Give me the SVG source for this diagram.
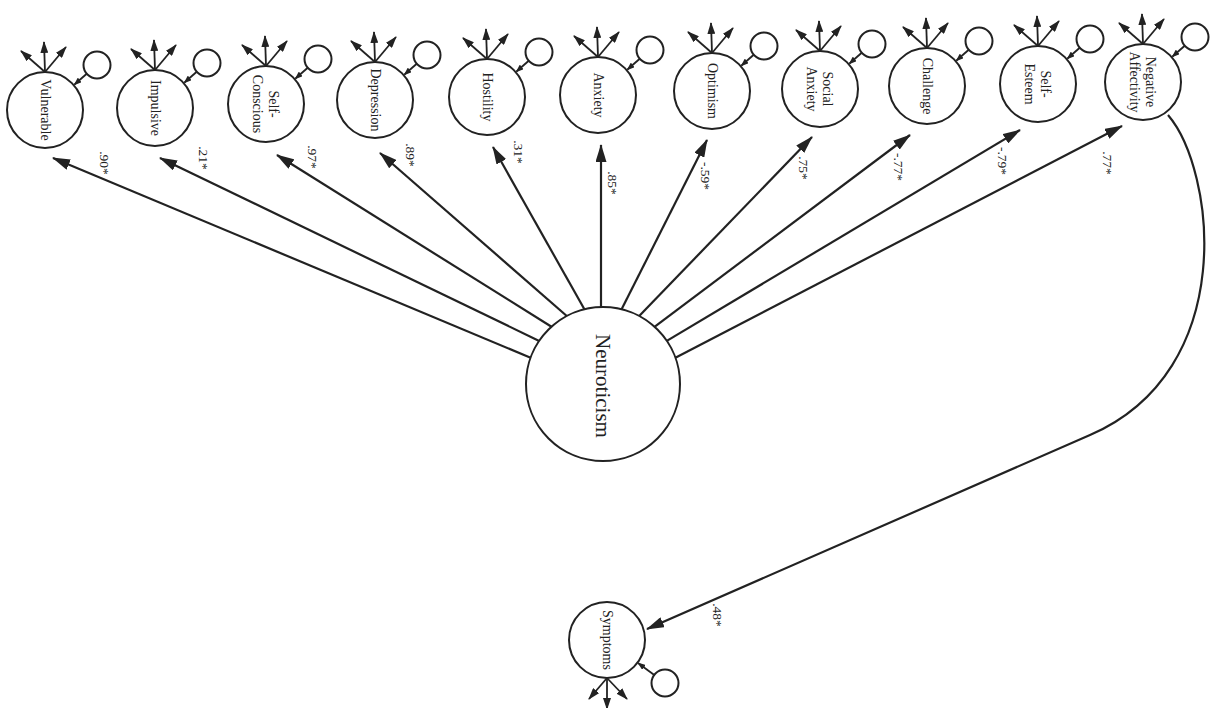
<svg xmlns="http://www.w3.org/2000/svg" xmlns:xlink="http://www.w3.org/1999/xlink" width="1212" height="708" viewBox="0 0 1212 708">
<style>
.nd{fill:#fff;stroke:#222;stroke-width:2}
.er{fill:#fff;stroke:#222;stroke-width:2}
.cn{fill:none;stroke:#222;stroke-width:2.2}
.fn{fill:none;stroke:#222;stroke-width:1.8}
.lb{font-family:"Liberation Serif","Times New Roman",serif;font-size:14px;fill:#222;text-anchor:middle;dominant-baseline:central}
.ll{font-size:13.5px}
.big{font-size:21px}
</style>
<defs>
<marker id="ah" markerWidth="18" markerHeight="11" refX="17" refY="5.5" orient="auto" markerUnits="userSpaceOnUse"><path d="M0,0 L18,5.5 L0,11 z" fill="#222"/></marker>
<marker id="ahs" markerWidth="12" markerHeight="8" refX="11" refY="4" orient="auto" markerUnits="userSpaceOnUse"><path d="M0,0 L12,4 L0,8 z" fill="#222"/></marker>
<marker id="ahe" markerWidth="8" markerHeight="6" refX="7" refY="3" orient="auto" markerUnits="userSpaceOnUse"><path d="M0,0 L8,3 L0,6 z" fill="#222"/></marker>
<g id="fanUp">
<line class="fn" x1="0" y1="-38" x2="-24" y2="-59" marker-end="url(#ahs)"/>
<line class="fn" x1="0" y1="-38" x2="-1" y2="-68" marker-end="url(#ahs)"/>
<line class="fn" x1="0" y1="-38" x2="21" y2="-63" marker-end="url(#ahs)"/>
</g>
<g id="errUp">
<circle class="er" cx="52" cy="-45" r="13.5"/>
<line class="fn" x1="42" y1="-36.5" x2="29.5" y2="-25.5" marker-end="url(#ahe)"/>
</g>
</defs>
<rect width="1212" height="708" fill="#fff"/>

<g id="connectors">
<line class="cn" x1="530.6" y1="357.7" x2="53" y2="158" marker-end="url(#ah)"/>
<line class="cn" x1="539.2" y1="340.9" x2="160" y2="158" marker-end="url(#ah)"/>
<line class="cn" x1="551.5" y1="326.8" x2="277" y2="155" marker-end="url(#ah)"/>
<line class="cn" x1="566.8" y1="316" x2="380" y2="153" marker-end="url(#ah)"/>
<line class="cn" x1="584.4" y1="309.3" x2="493" y2="147" marker-end="url(#ah)"/>
<line class="cn" x1="601" y1="307" x2="601" y2="145" marker-end="url(#ah)"/>
<line class="cn" x1="621.6" y1="309.3" x2="707" y2="140" marker-end="url(#ah)"/>
<line class="cn" x1="639.2" y1="316" x2="812" y2="137" marker-end="url(#ah)"/>
<line class="cn" x1="654.5" y1="326.8" x2="910" y2="135" marker-end="url(#ah)"/>
<line class="cn" x1="666.8" y1="340.9" x2="1020" y2="130" marker-end="url(#ah)"/>
<line class="cn" x1="675.4" y1="357.7" x2="1122" y2="126" marker-end="url(#ah)"/>
<path class="cn" d="M1168,115 C1215,170 1240,370 1090,435 L647,629" marker-end="url(#ah)"/>
<g id="loadings">
<text class="lb ll" transform="translate(104,163) rotate(90)">.90*</text>
<text class="lb ll" transform="translate(203,158) rotate(90)">.21*</text>
<text class="lb ll" transform="translate(312,157) rotate(90)">.97*</text>
<text class="lb ll" transform="translate(410,155) rotate(90)">.89*</text>
<text class="lb ll" transform="translate(518,152) rotate(90)">.31*</text>
<text class="lb ll" transform="translate(612,183) rotate(90)">.85*</text>
<text class="lb ll" transform="translate(705,176) rotate(90)">-.59*</text>
<text class="lb ll" transform="translate(803,168) rotate(90)">.75*</text>
<text class="lb ll" transform="translate(898,167) rotate(90)">-.77*</text>
<text class="lb ll" transform="translate(1002,161) rotate(90)">-.79*</text>
<text class="lb ll" transform="translate(1107,163) rotate(90)">.77*</text>
<text class="lb ll" transform="translate(717,615) rotate(90)">.48*</text>
</g>
</g>

<g id="vulnerable" transform="translate(45,110)">
<use xlink:href="#fanUp"/><use xlink:href="#errUp"/>
<circle class="nd" r="38"/>
<text class="lb" transform="rotate(90)">Vulnerable</text>
</g>
<g id="impulsive" transform="translate(155,108)">
<use xlink:href="#fanUp"/><use xlink:href="#errUp"/>
<circle class="nd" r="38"/>
<text class="lb" transform="rotate(90)">Impulsive</text>
</g>
<g id="self-conscious" transform="translate(266,104)">
<use xlink:href="#fanUp"/><use xlink:href="#errUp"/>
<circle class="nd" r="38"/>
<text class="lb" transform="rotate(90)"><tspan x="0" y="-8">Self-</tspan><tspan x="0" y="8">Conscious</tspan></text>
</g>
<g id="depression" transform="translate(375,100)">
<use xlink:href="#fanUp"/><use xlink:href="#errUp"/>
<circle class="nd" r="38"/>
<text class="lb" transform="rotate(90)">Depression</text>
</g>
<g id="hostility" transform="translate(487,97)">
<use xlink:href="#fanUp"/><use xlink:href="#errUp"/>
<circle class="nd" r="38"/>
<text class="lb" transform="rotate(90)">Hostility</text>
</g>
<g id="anxiety" transform="translate(598,95)">
<use xlink:href="#fanUp"/><use xlink:href="#errUp"/>
<circle class="nd" r="38"/>
<text class="lb" transform="rotate(90)">Anxiety</text>
</g>
<g id="optimism" transform="translate(712,91)">
<use xlink:href="#fanUp"/><use xlink:href="#errUp"/>
<circle class="nd" r="38"/>
<text class="lb" transform="rotate(90)">Optimism</text>
</g>
<g id="social-anxiety" transform="translate(820,89)">
<use xlink:href="#fanUp"/><use xlink:href="#errUp"/>
<circle class="nd" r="38"/>
<text class="lb" transform="rotate(90)"><tspan x="0" y="-8">Social</tspan><tspan x="0" y="8">Anxiety</tspan></text>
</g>
<g id="challenge" transform="translate(927,86)">
<use xlink:href="#fanUp"/><use xlink:href="#errUp"/>
<circle class="nd" r="38"/>
<text class="lb" transform="rotate(90)">Challenge</text>
</g>
<g id="self-esteem" transform="translate(1038,84)">
<use xlink:href="#fanUp"/><use xlink:href="#errUp"/>
<circle class="nd" r="38"/>
<text class="lb" transform="rotate(90)"><tspan x="0" y="-8">Self-</tspan><tspan x="0" y="8">Esteem</tspan></text>
</g>
<g id="negative-affectivity" transform="translate(1143,82)">
<use xlink:href="#fanUp"/><use xlink:href="#errUp"/>
<circle class="nd" r="38"/>
<text class="lb" transform="rotate(90)"><tspan x="0" y="-8">Negative</tspan><tspan x="0" y="8">Affectivity</tspan></text>
</g>

<g id="neuroticism">
<circle class="nd" cx="603" cy="384" r="77"/>
<text class="lb big" transform="translate(603,386) rotate(90)">Neuroticism</text>
</g>

<g id="symptoms" transform="translate(607,640)">
<line class="fn" x1="0" y1="38" x2="-18" y2="59" marker-end="url(#ahs)"/>
<line class="fn" x1="0" y1="38" x2="0" y2="69" marker-end="url(#ahs)"/>
<line class="fn" x1="0" y1="38" x2="20" y2="59" marker-end="url(#ahs)"/>
<circle class="er" cx="58" cy="43" r="13.5"/>
<line class="fn" x1="47.6" y1="35.3" x2="31.3" y2="23.2" marker-end="url(#ahe)"/>
<circle class="nd" r="38"/>
<text class="lb" transform="rotate(90)">Symptoms</text>
</g>
</svg>
